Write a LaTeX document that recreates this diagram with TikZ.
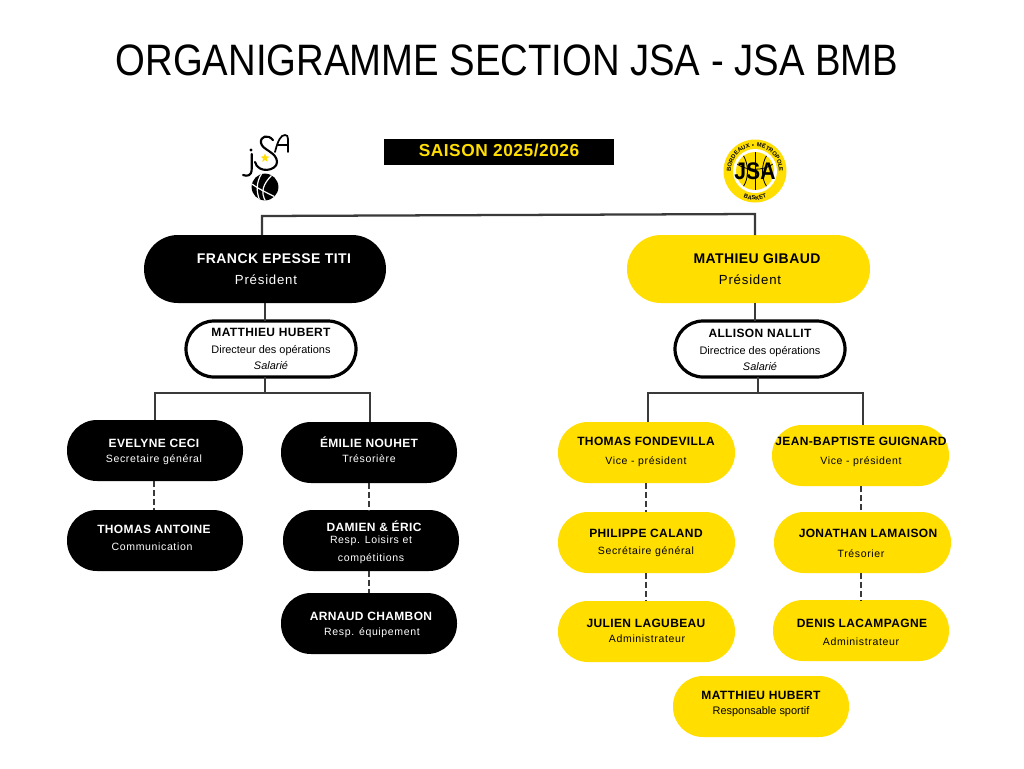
\documentclass[tikz,border=0pt]{standalone}
\usepackage{fontspec}
\usetikzlibrary{decorations.text,shapes.geometric}
\setmainfont{Liberation Sans}
\newfontfamily\titlefont[FakeStretch=0.87]{Liberation Sans}
\newfontfamily\namefont[LetterSpace=3,BoldFont=Liberation Sans Bold]{Liberation Sans}
\newfontfamily\rolefont[LetterSpace=6]{Liberation Sans}
\newfontfamily\plainrole{Liberation Sans}
\newfontfamily\seasonfont[LetterSpace=3,BoldFont=Liberation Sans Bold]{Liberation Sans}
\newfontfamily\markfont[FakeStretch=0.88,BoldFont=Liberation Sans Bold]{Liberation Sans}
\newfontfamily\ringfont[LetterSpace=10,BoldFont=Liberation Sans Bold]{Liberation Sans}
\definecolor{jsay}{HTML}{FFDE00}
\definecolor{lin}{HTML}{3A3A3A}
\tikzset{
  x=0.75pt,y=-0.75pt,
  blackbox/.style={fill=black,rounded corners=22.5pt},
  yellowbox/.style={fill=jsay,rounded corners=22.5pt},
  whitebox/.style={fill=white,draw=black,line width=2.4pt,rounded corners=21pt},
  bigname/.style={font=\fontsize{10.5}{12}\bfseries\namefont,inner sep=0pt,text height=7.5pt,text depth=0pt},
  smallname/.style={font=\fontsize{9}{11}\bfseries\namefont,inner sep=0pt,text height=6.5pt,text depth=0pt},
  role/.style={font=\fontsize{7.9}{9}\rolefont,inner sep=0pt,text height=7pt,text depth=1.6pt},
  bigrole/.style={font=\fontsize{9.9}{11}\rolefont,inner sep=0pt,text height=9.6pt,text depth=1.9pt},
  plain/.style={font=\fontsize{8.2}{9}\plainrole,inner sep=0pt,text height=7.8pt,text depth=1.6pt},
  wh/.style={text=white},
  bk/.style={text=black},
  solidlink/.style={draw=lin,line width=1.7pt,line cap=butt},
  dashlink/.style={draw=lin,line width=1.7pt,dash pattern=on 4.5pt off 2.2pt},
}
\newcommand{\boxat}[7]{% name, style, x1, y1, x2, y2
  \node[#2,minimum width=(#5-#3)*0.75pt,minimum height=(#6-#4)*0.75pt,inner sep=0pt,outer sep=0pt] (#1) at ({(#3+#5)/2},{(#4+#6)/2}) {};}
\begin{document}
\begin{tikzpicture}
\useasboundingbox (0,0) rectangle (1024,768);
\fill[white] (0,0) rectangle (1024,768);

% title
\node[inner sep=0pt,font=\fontsize{33}{38}\titlefont] (title) at (507,60) {ORGANIGRAMME SECTION JSA - JSA BMB};
\node[fill=black,minimum width=172.5pt,minimum height=19.5pt,inner sep=0pt] (season) at (499,152) {};
\node[inner sep=0pt,text=jsay,font=\fontsize{13}{15}\bfseries\seasonfont] (seasontext) at (499,150.5) {SAISON 2025/2026};

% boxes
\boxat{franck}{blackbox,rounded corners=25.5pt}{144}{235}{386}{303}{}
\boxat{gibaud}{yellowbox,rounded corners=25.5pt}{627}{235}{870}{303}{}
\boxat{hubert}{whitebox}{186}{321}{356}{377}{}
\boxat{allison}{whitebox}{675}{321}{845}{377}{}
\boxat{evelyne}{blackbox}{67}{420}{243}{481}{}
\boxat{emilie}{blackbox}{281}{422}{457}{483}{}
\boxat{antoine}{blackbox}{67}{510}{243}{571}{}
\boxat{damien}{blackbox}{283}{510}{459}{571}{}
\boxat{arnaud}{blackbox}{281}{593}{457}{654}{}
\boxat{thomasf}{yellowbox}{558}{422}{735}{483}{}
\boxat{jb}{yellowbox}{772}{425}{949}{486}{}
\boxat{philippe}{yellowbox}{558}{512}{735}{573}{}
\boxat{jonathan}{yellowbox}{774}{512}{951}{573}{}
\boxat{julien}{yellowbox}{558}{601}{735}{662}{}
\boxat{denis}{yellowbox}{773}{600}{949}{661}{}
\boxat{sportif}{yellowbox}{673}{676}{849}{737}{}

% junction coordinates
\coordinate (topl) at (262,216);
\coordinate (topr) at (755,214);
\coordinate (lt) at (265,393);
\coordinate (la) at (155,393);
\coordinate (lb) at (370,393);
\coordinate (rt) at (758,393);
\coordinate (ra) at (648,393);
\coordinate (rb) at (863,393);
\coordinate (dl) at (154,0);
\coordinate (dm) at (369,0);
\coordinate (dr) at (646,0);
\coordinate (ds) at (861,0);

% solid links
\draw[solidlink] (topl |- franck.north) -- (topl) -- (topr) -- (topr |- gibaud.north);
\draw[solidlink] (lt |- franck.south) -- (lt |- hubert.north);
\draw[solidlink] (topr |- gibaud.south) -- (topr |- allison.north);
\draw[solidlink] (lt |- hubert.south) -- (lt);
\draw[solidlink] (rt |- allison.south) -- (rt);
\draw[solidlink] (la |- evelyne.north) -- (la) -- (lb) -- (lb |- emilie.north);
\draw[solidlink] (ra |- thomasf.north) -- (ra) -- (rb) -- (rb |- jb.north);
% dashed links
\draw[dashlink] (dl |- evelyne.south) -- (dl |- antoine.north);
\draw[dashlink] (dm |- emilie.south) -- (dm |- damien.north);
\draw[dashlink] (dm |- damien.south) -- (dm |- arnaud.north);
\draw[dashlink] (dr |- thomasf.south) -- (dr |- philippe.north);
\draw[dashlink] (dr |- philippe.south) -- (dr |- julien.north);
\draw[dashlink] (ds |- jb.south) -- (ds |- jonathan.north);
\draw[dashlink] (ds |- jonathan.south) -- (ds |- denis.north);

% texts
\node[bigname,wh] (t1) at (274,258) {FRANCK EPESSE TITI};
\node[bigrole,wh] (t2) at (266,279) {Président};
\node[bigname,bk] (t3) at (757,258) {MATHIEU GIBAUD};
\node[bigrole,bk] (t4) at (750,279) {Président};
\node[smallname,bk] (t5) at (271,332) {MATTHIEU HUBERT};
\node[plain,bk] (t6) at (271,349) {Directeur des opérations};
\node[plain,bk,font=\fontsize{8.2}{9}\itshape\plainrole] (t7) at (271,365) {Salarié};
\node[smallname,bk] (t8) at (760,333) {ALLISON NALLIT};
\node[plain,bk] (t9) at (760,350) {Directrice des opérations};
\node[plain,bk,font=\fontsize{8.2}{9}\itshape\plainrole] (t10) at (760,366) {Salarié};
\node[smallname,wh] (t11) at (154,443) {EVELYNE CECI};
\node[role,wh] (t12) at (154,459) {Secretaire général};
\node[smallname,wh] (t13) at (369,443) {ÉMILIE NOUHET};
\node[role,wh] (t14) at (369,459) {Trésorière};
\node[smallname,wh] (t15) at (154,529) {THOMAS ANTOINE};
\node[role,wh] (t16) at (152,547) {Communication};
\node[smallname,wh] (t17) at (374,527) {DAMIEN \& ÉRIC};
\node[role,wh] (t18) at (371,540) {Resp. Loisirs et};
\node[role,wh] (t19) at (371,558) {compétitions};
\node[smallname,wh] (t20) at (371,616) {ARNAUD CHAMBON};
\node[role,wh] (t21) at (372,632) {Resp. équipement};
\node[smallname,bk] (t22) at (646,441) {THOMAS FONDEVILLA};
\node[role,bk] (t23) at (646,461) {Vice - président};
\node[smallname,bk] (t24) at (861,441) {JEAN-BAPTISTE GUIGNARD};
\node[role,bk] (t25) at (861,461) {Vice - président};
\node[smallname,bk] (t26) at (646,533) {PHILIPPE CALAND};
\node[role,bk] (t27) at (646,551) {Secrétaire général};
\node[smallname,bk] (t28) at (868,533) {JONATHAN LAMAISON};
\node[role,bk] (t29) at (861,554) {Trésorier};
\node[smallname,bk] (t30) at (646,623) {JULIEN LAGUBEAU};
\node[role,bk] (t31) at (647,639) {Administrateur};
\node[smallname,bk] (t32) at (862,623) {DENIS LACAMPAGNE};
\node[role,bk] (t33) at (861,642) {Administrateur};
\node[smallname,bk] (t34) at (761,695) {MATTHIEU HUBERT};
\node[plain,bk] (t35) at (761,710) {Responsable sportif};

% JSA logo (left)
\begin{scope}[line width=1.6pt,line cap=round,draw=black]
  \draw (251.7,154) -- (251.7,169) .. controls (251.7,176) and (247,176.5) .. (243,175);
  \fill (251,150) circle (1.7);
  \draw (273,140) .. controls (268,134) and (260,136) .. (261,143)
        .. controls (262,150) and (277,152) .. (277,162)
        .. controls (277,171) and (258,174) .. (255,162);
\end{scope}
\begin{scope}[line width=1.3pt,line cap=round,draw=black]
  \draw (275,152) .. controls (278,140) and (281,135) .. (285,135) .. controls (287,135) and (288,136) .. (288,139) -- (288,152);
  \draw (278,145) -- (288,145);
\end{scope}
\node[fill=jsay,star,star points=5,star point ratio=2.4,minimum size=7pt,inner sep=0pt] (star) at (265,158) {};
\fill[black] (265,187) circle (13.4);
\begin{scope}
  \clip (265,187) circle (13.4);
  \draw[white,line width=0.9pt] (252,184) .. controls (260,190) and (270,194) .. (277,198);
  \draw[white,line width=0.9pt] (262,173) .. controls (256,182) and (256,192) .. (260,201);
  \draw[white,line width=0.9pt] (272,175) .. controls (263,184) and (260,192) .. (266,202);
\end{scope}

% JSA BMB logo (right)
\fill[jsay] (755,171) circle (31.5);
\fill[white] (755,171) circle (22);
\fill[jsay] (755,171) circle (19);
\begin{scope}
  \clip (755,171) circle (19);
  \draw[black,line width=0.6pt] (737,164) .. controls (746,171) and (764,171) .. (773,164);
  \draw[black,line width=0.6pt] (755,152) -- (755,190);
  \draw[black,line width=0.6pt] (743,155) .. controls (749,164) and (749,179) .. (743,187);
  \draw[black,line width=0.6pt] (767,155) .. controls (761,164) and (761,179) .. (767,187);
\end{scope}
\node[inner sep=0pt,font=\fontsize{18}{21}\bfseries\markfont,text=black] (jsamark) at (755,171) {JSA};
\path[postaction={decorate},decoration={text along path,text align=center,
  text={|\fontsize{4.4}{6}\bfseries\ringfont\color{black}|BORDEAUX • MÉTROPOLE}}]
  (733.3,181.1) arc[start angle=-205,end angle=25,radius=24];
\path[postaction={decorate},decoration={text along path,text align=center,
  text={|\fontsize{4.4}{6}\bfseries\ringfont\color{black}|BASKET}}]
  (738.4,194.8) arc[start angle=-235,end angle=-305,radius=29];
\end{tikzpicture}
\end{document}
